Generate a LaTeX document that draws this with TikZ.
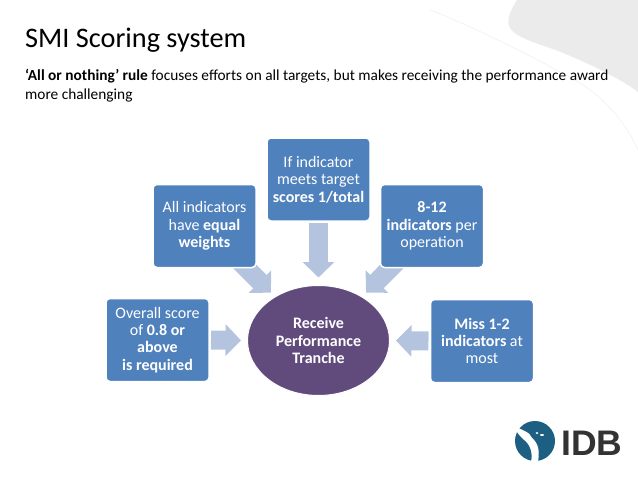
\documentclass[tikz,border=0pt]{standalone}
\usepackage{fontspec}
\setmainfont{Carlito}
\newfontfamily\logofont{Liberation Sans}
\usetikzlibrary{arrows.meta,backgrounds,shapes.geometric}
\definecolor{boxblue}{HTML}{4F81BD}
\definecolor{arrowblue}{HTML}{B4C4DF}
\definecolor{tranchepurple}{HTML}{614B7D}
\definecolor{wallgrey}{HTML}{EBEBEB}
\definecolor{logoblue}{HTML}{1C5F82}
\tikzset{
  rulebox/.style={draw=white,line width=1.5pt,fill=boxblue,rounded corners=4pt,text=white,
    minimum width=103pt,minimum height=83pt,align=center,inner sep=0pt,outer sep=0pt,
    font=\fontsize{16}{17.4}\selectfont},
  bigarrow/.style={draw=arrowblue,line width=19pt,-{Triangle[length=15.5pt,width=31pt,fill=arrowblue]}},
}

\begin{document}
\begin{tikzpicture}[x=1pt,y=-1pt]
  \useasboundingbox (0,0) rectangle (638,479);
  \node (title) [anchor=base west,inner sep=0pt,font=\fontsize{28.3}{32}\selectfont] at (25,47) {SMI Scoring system};
  \node (intro) [anchor=north west,inner sep=0pt,align=left,font=\fontsize{15.35}{19}\selectfont] at (25,69)
    {\textbf{‘All or nothing’ rule} focuses efforts on all targets, but makes receiving the performance award\\more challenging};

  \node (tranche) [ellipse,fill=tranchepurple,draw=white,line width=1pt,minimum width=142pt,minimum height=110pt,inner sep=0pt,outer sep=0pt,
    text=white,align=center,font=\fontsize{16}{17.4}\bfseries\selectfont] at (318.5,340.5) {Receive\\Performance\\Tranche};
  \node (target) [rulebox] at (318.5,179.5) {If indicator\\meets target\\\textbf{scores 1/total}};
  \node (weights) [rulebox] at (204.5,226) {All indicators\\have \textbf{equal}\\\textbf{weights}};
  \node (count) [rulebox] at (432,226) {\textbf{8-12}\\\textbf{indicators} per\\operation};
  \node (overall) [rulebox] at (157.5,340) {Overall score\\of \textbf{0.8 or}\\\textbf{above}\\\textbf{is required}};
  \node (miss) [rulebox] at (482,341) {\textbf{Miss 1-2}\\\textbf{indicators} at\\most};

  \node (idb) [anchor=base west,inner sep=0pt,text=black!80,font=\logofont\fontsize{35.5}{36}\bfseries\selectfont] at (561,455) {IDB};
  \fill[logoblue] (535,441) circle (20pt);
  \fill[white] (514,426) .. controls (522,430) and (530,432) .. (532,438)
    .. controls (538,443) and (540,450) .. (538,462) -- (531,462)
    .. controls (533,452) and (530,444) .. (523,439)
    .. controls (520,436) and (516,432) .. (514,426);
  \fill[white] (537,433) ellipse (1.5pt and 1pt) (542,435) ellipse (2pt and 1pt);

  \begin{scope}[on background layer]
    \fill[wallgrey] (517,0) .. controls (512,8) and (505,20) .. (510,28)
      .. controls (518,40) and (545,45) .. (563,53)
      .. controls (585,62) and (620,78) .. (638,92) -- (638,0) -- cycle;
    \draw[wallgrey!70,line width=0.7pt] (430,10) .. controls (470,25) and (540,60) .. (580,83)
      .. controls (600,95) and (625,120) .. (638,150);
    \draw[bigarrow,shorten <=2pt,shorten >=8pt] (target.south) -- (tranche.north);
    \draw[bigarrow,shorten <=2pt,shorten >=6.5pt] (overall.east) -- (tranche.west);
    \draw[bigarrow,shorten <=2pt,shorten >=6.5pt] (miss.west) -- (tranche.east);
    \draw[bigarrow,shorten >=67.5pt] (weights.center) -- (tranche.center);
    \draw[bigarrow,shorten >=67.5pt] (count.center) -- (tranche.center);
  \end{scope}
\end{tikzpicture}
\end{document}
